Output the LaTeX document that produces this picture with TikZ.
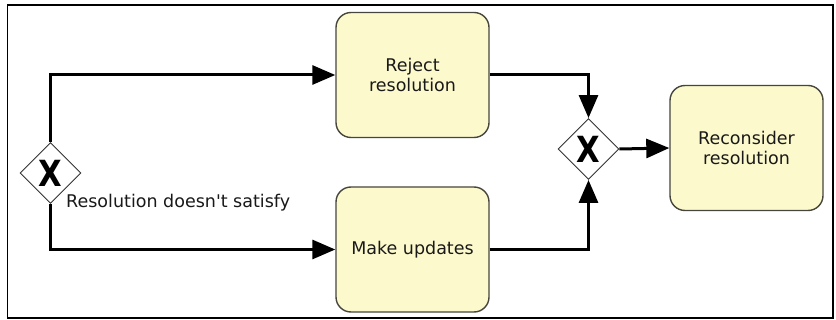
\documentclass[tikz,border=0pt]{standalone}
\usepackage{fontspec}
\newfontfamily\dvfont{DejaVu Sans}
\usetikzlibrary{shapes.geometric,arrows.meta}
\definecolor{taskfill}{RGB}{252,250,205}
\definecolor{taskline}{RGB}{70,70,60}
\tikzset{
  task/.style={draw=taskline,line width=1.4pt,fill=taskfill,rounded corners=15pt,
    minimum width=153pt,minimum height=125pt,align=center,font=\dvfont\fontsize{17.5}{20}\selectfont,text=black!90,inner sep=0pt},
  gate/.style={draw=black!80,line width=0.9pt,fill=white,diamond,minimum width=61pt,minimum height=61pt,inner sep=0pt},
  flow/.style={line width=3pt,-{Triangle[length=23pt,width=19pt]}},
  xmark/.style={font=\dvfont\fontsize{36}{36}\selectfont\bfseries,xscale=0.85}
}
\begin{document}
\begin{tikzpicture}[x=1pt,y=-1pt]
\useasboundingbox (0,0) rectangle (836,320);
\fill[white] (0,0) rectangle (836,320);
\draw[line width=1.2pt] (7.5,5) rectangle (833,318);
\node[task] (rej) at (412.5,75) {Reject\\resolution};
\node[task] (mak) at (412.5,249.5) {Make updates};
\node[task] (rec) at (746.5,148) {Reconsider\\resolution};
\node[gate] (g1) at (50.5,173) {};
\node[gate] (g2) at (588.5,149) {};
\node[xmark] (x1) at (g1) {X};
\node[xmark] (x2) at (g2) {X};
\draw[flow] (g1.north) |- (rej.west);
\draw[flow] (g1.south) |- (mak.west);
\draw[flow] (rej.east) -| (g2.north);
\draw[flow] (mak.east) -| (g2.south);
\draw[flow] (g2.east) -- (rec.west);
\node[anchor=west,font=\dvfont\fontsize{17.5}{20}\selectfont,text=black!90,inner sep=0pt] (lbl) at (66,203) {Resolution doesn't satisfy};
\end{tikzpicture}
\end{document}
